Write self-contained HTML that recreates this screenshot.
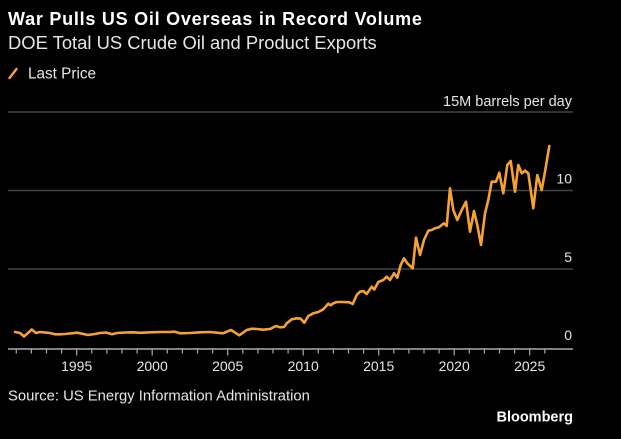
<!DOCTYPE html>
<html><head><meta charset="utf-8"><style>
html,body{margin:0;padding:0;background:#000;}
svg{display:block;}
text{font-family:"Liberation Sans",sans-serif;}
</style></head><body>
<svg width="621" height="439" viewBox="0 0 621 439" xmlns="http://www.w3.org/2000/svg">
<rect width="621" height="439" fill="#000"/>
<text x="8" y="25" font-size="18" font-weight="bold" fill="#fff" letter-spacing="0.75">War Pulls US Oil Overseas in Record Volume</text>
<text x="8" y="49" font-size="18.4" fill="#e6e6e6">DOE Total US Crude Oil and Product Exports</text>
<line x1="9.5" y1="78" x2="16.5" y2="69" stroke="#f6a133" stroke-width="2.5" stroke-linecap="round"/>
<text x="28" y="78.5" font-size="15.3" fill="#e6e6e6">Last Price</text>
<text x="572" y="106" font-size="14.5" fill="#e6e6e6" text-anchor="end">15M barrels per day</text>
<g stroke="#444" stroke-width="1.5">
<line x1="8" y1="112" x2="573" y2="112"/>
<line x1="8" y1="190.5" x2="573" y2="190.5"/>
<line x1="8" y1="269" x2="573" y2="269"/>
</g>
<g font-size="14" fill="#e6e6e6" text-anchor="end">
<text x="572" y="183.5">10</text>
<text x="572" y="262">5</text>
<text x="572" y="340">0</text>
</g>
<line x1="8" y1="349" x2="573" y2="349" stroke="#aaa" stroke-width="1.5"/>
<g stroke="#aaa" stroke-width="1.2">
<line x1="16.3" y1="349" x2="16.3" y2="353.5"/>
<line x1="31.4" y1="349" x2="31.4" y2="353.5"/>
<line x1="46.5" y1="349" x2="46.5" y2="353.5"/>
<line x1="61.6" y1="349" x2="61.6" y2="353.5"/>
<line x1="76.7" y1="349" x2="76.7" y2="355.5"/>
<line x1="91.8" y1="349" x2="91.8" y2="353.5"/>
<line x1="106.9" y1="349" x2="106.9" y2="353.5"/>
<line x1="122.0" y1="349" x2="122.0" y2="353.5"/>
<line x1="137.1" y1="349" x2="137.1" y2="353.5"/>
<line x1="152.2" y1="349" x2="152.2" y2="355.5"/>
<line x1="167.3" y1="349" x2="167.3" y2="353.5"/>
<line x1="182.4" y1="349" x2="182.4" y2="353.5"/>
<line x1="197.5" y1="349" x2="197.5" y2="353.5"/>
<line x1="212.6" y1="349" x2="212.6" y2="353.5"/>
<line x1="227.7" y1="349" x2="227.7" y2="355.5"/>
<line x1="242.8" y1="349" x2="242.8" y2="353.5"/>
<line x1="257.9" y1="349" x2="257.9" y2="353.5"/>
<line x1="273.0" y1="349" x2="273.0" y2="353.5"/>
<line x1="288.1" y1="349" x2="288.1" y2="353.5"/>
<line x1="303.2" y1="349" x2="303.2" y2="355.5"/>
<line x1="318.3" y1="349" x2="318.3" y2="353.5"/>
<line x1="333.4" y1="349" x2="333.4" y2="353.5"/>
<line x1="348.5" y1="349" x2="348.5" y2="353.5"/>
<line x1="363.6" y1="349" x2="363.6" y2="353.5"/>
<line x1="378.7" y1="349" x2="378.7" y2="355.5"/>
<line x1="393.8" y1="349" x2="393.8" y2="353.5"/>
<line x1="408.9" y1="349" x2="408.9" y2="353.5"/>
<line x1="424.0" y1="349" x2="424.0" y2="353.5"/>
<line x1="439.1" y1="349" x2="439.1" y2="353.5"/>
<line x1="454.2" y1="349" x2="454.2" y2="355.5"/>
<line x1="469.3" y1="349" x2="469.3" y2="353.5"/>
<line x1="484.4" y1="349" x2="484.4" y2="353.5"/>
<line x1="499.5" y1="349" x2="499.5" y2="353.5"/>
<line x1="514.6" y1="349" x2="514.6" y2="353.5"/>
<line x1="529.7" y1="349" x2="529.7" y2="355.5"/>
<line x1="544.8" y1="349" x2="544.8" y2="353.5"/>
</g>
<g font-size="14" fill="#e6e6e6" text-anchor="middle">
<text x="76.7" y="371">1995</text>
<text x="152.2" y="371">2000</text>
<text x="227.7" y="371">2005</text>
<text x="303.2" y="371">2010</text>
<text x="378.7" y="371">2015</text>
<text x="454.2" y="371">2020</text>
<text x="529.7" y="371">2025</text>
</g>
<polyline fill="none" stroke="#f6a133" stroke-width="2.6" stroke-linejoin="round" stroke-linecap="round" points="15,332 20,333 24,336.5 28,333 31.7,329.5 36,333 40,332 45,332.5 50,333 55,334.3 60,334.3 65,334 70,333.5 77,332.7 82,333.7 88,335 95,334 100,333 106,332.5 112,334.3 117,333 125,332.5 133,332.3 140,332.8 150,332.3 160,332 170,332 175,331.7 180,333.3 190,333 200,332.3 210,332 223,333.3 231,330 239.3,335.3 246.7,330 251.7,328.7 256.7,329 263.3,329.7 270,329 276,326 280,327.3 284,327 286.7,323.3 291.7,319.3 296.7,318.3 300.7,318.7 304.3,322.7 308.3,316 313.3,313.3 318.3,312 323.3,309.3 328.3,303.7 330.7,305.3 333.3,303.3 336.7,302 343.3,302 349.3,302.3 352.7,304 356.7,295 360,291.7 363.3,291 366.7,294 371.7,286.7 374.3,289.5 378.3,282 383.3,280 386.7,276.7 390,280 394,273.3 397.3,277.7 400.7,265 404,258.3 407.3,263.3 412.7,268.3 416,237.7 420,255 424,240 428.3,230.7 431.7,230 435,228.3 439,227.3 441.7,225 444,223.3 446.7,226 450,188.3 453.3,210 457.3,220 461.7,210 466,201.7 470,231.7 474,211 477.3,225 481,245 485,213.3 488.3,200 491.7,181.7 496,181.7 499.3,172.7 503.3,193.3 507.3,165 510.7,161 515,191.7 518.3,165 521.7,173.3 525,170.7 528.3,173.3 533.3,208.3 537.3,175 541.7,190 545,171.7 549.3,146"/>
<text x="8" y="400.5" font-size="14.8" fill="#e6e6e6">Source: US Energy Information Administration</text>
<text x="573" y="421.5" font-size="14.5" font-weight="bold" fill="#fff" text-anchor="end">Bloomberg</text>
</svg>
</body></html>
